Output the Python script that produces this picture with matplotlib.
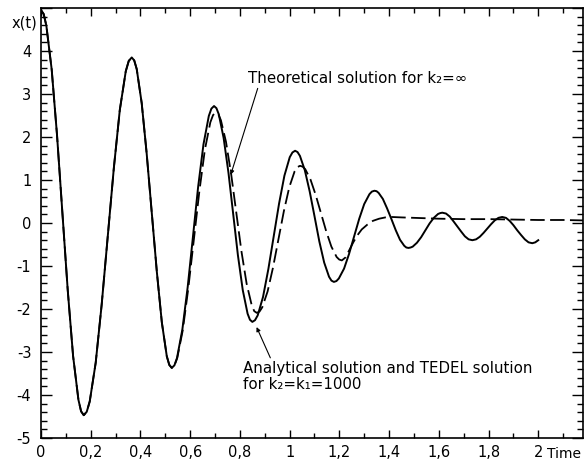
import matplotlib
matplotlib.use("Agg")
import matplotlib.pyplot as plt
from matplotlib.ticker import MultipleLocator, FixedLocator
import matplotlib.transforms as mtransforms

plt.rcParams["font.family"] = ["DejaVu Sans"]
plt.rcParams["axes.unicode_minus"] = False

# analytical / TEDEL solution (solid)
t_solid = [
    0.000, 0.01075, 0.0215, 0.043, 0.0645, 0.086, 0.1075, 0.129, 0.1505, 0.16125,
    0.172, 0.184, 0.196, 0.220, 0.244, 0.2685, 0.293, 0.317, 0.341, 0.353,
    0.365, 0.375, 0.385, 0.405, 0.425, 0.4455, 0.466, 0.486, 0.506, 0.516,
    0.526, 0.5366, 0.547, 0.5685, 0.590, 0.611, 0.632, 0.6535, 0.675, 0.6854,
    0.696, 0.7056, 0.715, 0.7345, 0.754, 0.773, 0.792, 0.8115, 0.831, 0.8404,
    0.850, 0.86075, 0.8715, 0.893, 0.9145, 0.936, 0.9575, 0.979, 1.0005, 1.01125,
    1.022, 1.03175, 1.0415, 1.061, 1.0805, 1.100, 1.1195, 1.139, 1.1585, 1.16825,
    1.178, 1.1882, 1.198, 1.219, 1.239, 1.2595, 1.280, 1.300, 1.321, 1.3308,
    1.341, 1.3496, 1.358, 1.375, 1.392, 1.4095, 1.427, 1.444, 1.461, 1.4694,
    1.478, 1.4865, 1.495, 1.512, 1.529, 1.546, 1.563, 1.580, 1.597, 1.6055,
    1.614, 1.629, 1.644, 1.659, 1.6745, 1.690, 1.705, 1.720,
    1.735, 1.750, 1.765, 1.780, 1.795, 1.810, 1.825, 1.840,
    1.855, 1.870, 1.885, 1.900, 1.9155, 1.931, 1.946, 1.961,
    1.976, 1.988, 2.000,
]
x_solid = [
    4.95, 4.86, 4.59, 3.57, 2.04, 0.24, -1.56, -3.09, -4.11, -4.38,
    -4.47, -4.39, -4.15, -3.25, -1.90, -0.31, 1.28, 2.63, 3.53, 3.77,
    3.85, 3.78, 3.58, 2.79, 1.62, 0.24, -1.14, -2.31, -3.10, -3.30,
    -3.37, -3.31, -3.14, -2.48, -1.49, -0.33, 0.84, 1.83, 2.49, 2.66,
    2.72, 2.67, 2.53, 1.98, 1.17, 0.21, -0.75, -1.56, -2.11, -2.25,
    -2.30, -2.26, -2.15, -1.72, -1.07, -0.31, 0.45, 1.10, 1.53, 1.64,
    1.68, 1.65, 1.56, 1.23, 0.74, 0.16, -0.43, -0.92, -1.25, -1.34,
    -1.37, -1.35, -1.29, -1.06, -0.72, -0.31, 0.10, 0.44, 0.67, 0.73,
    0.75, 0.74, 0.70, 0.56, 0.34, 0.09, -0.17, -0.39, -0.53, -0.57,
    -0.58, -0.57, -0.55, -0.46, -0.33, -0.17, -0.01, 0.12, 0.21, 0.23,
    0.24, 0.22, 0.15, 0.04, -0.08, -0.20, -0.31, -0.38,
    -0.40, -0.38, -0.32, -0.23, -0.13, -0.03, 0.06, 0.12,
    0.14, 0.12, 0.05, -0.05, -0.17, -0.28, -0.38, -0.45,
    -0.47, -0.45, -0.40,
]

# theoretical solution for k2 = infinity (dashed)
t_dash = [
    0.000, 0.01075, 0.0215, 0.043, 0.0645, 0.086, 0.1075, 0.129, 0.1505, 0.16125,
    0.172, 0.184, 0.196, 0.220, 0.244, 0.2685, 0.293, 0.317, 0.341, 0.353,
    0.365, 0.375, 0.385, 0.405, 0.425, 0.4455, 0.466, 0.486, 0.506, 0.516,
    0.526, 0.537, 0.548, 0.570, 0.592, 0.6145, 0.637, 0.659, 0.681, 0.692,
    0.703, 0.7133, 0.7236, 0.744, 0.765, 0.7855, 0.806, 0.827, 0.8474, 0.8577,
    0.868, 0.8789, 0.890, 0.9115, 0.933, 0.955, 0.977, 0.9985, 1.020, 1.0311,
    1.042, 1.0525, 1.063, 1.084, 1.105, 1.126, 1.147, 1.168, 1.189, 1.1995,
    1.210, 1.225, 1.240, 1.256, 1.272, 1.290, 1.312, 1.335,
    1.360, 1.385, 1.410, 1.450, 1.500, 1.600, 1.700, 1.800,
    1.900, 2.000, 2.100, 2.180,
]
x_dash = [
    4.95, 4.86, 4.59, 3.57, 2.04, 0.24, -1.56, -3.09, -4.11, -4.38,
    -4.47, -4.39, -4.15, -3.25, -1.90, -0.31, 1.28, 2.63, 3.53, 3.77,
    3.85, 3.78, 3.58, 2.79, 1.62, 0.24, -1.14, -2.31, -3.10, -3.30,
    -3.37, -3.31, -3.14, -2.50, -1.54, -0.40, 0.74, 1.70, 2.34, 2.51,
    2.57, 2.53, 2.39, 1.89, 1.13, 0.24, -0.65, -1.41, -1.91, -2.05,
    -2.09, -2.06, -1.96, -1.59, -1.04, -0.38, 0.28, 0.83, 1.20, 1.30,
    1.33, 1.31, 1.25, 1.01, 0.65, 0.23, -0.19, -0.55, -0.79, -0.85,
    -0.87, -0.80, -0.63, -0.45, -0.29, -0.15, -0.04, 0.05,
    0.10, 0.13, 0.14, 0.13, 0.12, 0.10, 0.09, 0.09,
    0.08, 0.07, 0.07, 0.06,
]

x_ticks = [0, 0.2, 0.4, 0.6, 0.8, 1.0, 1.2, 1.4, 1.6, 1.8, 2.0]
x_labels = ["0", "0,2", "0,4", "0,6", "0,8", "1", "1,2", "1,4", "1,6", "1,8", "2"]
y_ticks = [-5, -4, -3, -2, -1, 0, 1, 2, 3, 4]
y_labels = ["-5", "-4", "-3", "-2", "-1", "0", "1", "2", "3", "4"]

fig = plt.figure(figsize=(5.86, 4.69), dpi=100)
ax = fig.add_axes([41 / 586, 31 / 469, 542 / 586, 430 / 469])

ax.plot(t_solid, x_solid, color="black", lw=1.4, solid_joinstyle="round")
ax.plot(t_dash, x_dash, color="black", lw=1.3, linestyle=(0, (8, 3)))

ax.set_xlim(0, 2.18)
ax.set_ylim(-5, 5)

ax.xaxis.set_major_locator(FixedLocator(x_ticks))
ax.set_xticklabels(x_labels)
ax.xaxis.set_minor_locator(MultipleLocator(0.1))
ax.yaxis.set_major_locator(FixedLocator(y_ticks + [5]))
ax.set_yticklabels(y_labels + [""])
ax.yaxis.set_minor_locator(MultipleLocator(0.2))

ax.tick_params(which="both", direction="in", top=True, right=True,
               width=1.0, labelsize=10.5, color="black")
ax.tick_params(axis="x", which="major", length=6, pad=5)
ax.tick_params(axis="x", which="minor", length=3.5)
ax.tick_params(axis="y", which="major", length=8, pad=7)
ax.tick_params(axis="y", which="minor", length=4)
for s in ax.spines.values():
    s.set_linewidth(1.2)

ax.text(-0.006, 4.65, "x(t)", transform=mtransforms.blended_transform_factory(ax.transAxes, ax.transData),
        ha="right", va="center", fontsize=10.5)
ax.text(2.035, -0.022, "Time", transform=mtransforms.blended_transform_factory(ax.transData, ax.transAxes),
        ha="left", va="top", fontsize=10)

ax.annotate("Theoretical solution for k₂=∞", xy=(0.763, 1.12), xytext=(0.831, 3.37),
            fontsize=10.8, va="center", ha="left",
            arrowprops=dict(arrowstyle="-|>", lw=0.8, color="black", mutation_scale=6,
                            shrinkA=0, shrinkB=0, relpos=(0.05, 0.0)))
ax.annotate("Analytical solution and TEDEL solution\nfor k₂=k₁=1000", xy=(0.867, -2.42),
            xytext=(0.811, -3.57), fontsize=10.8, va="center", ha="left", linespacing=1.15,
            arrowprops=dict(arrowstyle="-|>", lw=0.8, color="black", mutation_scale=6,
                            shrinkA=0, shrinkB=0, relpos=(0.1, 1.0)))

fig.savefig("out.png", dpi=100)
